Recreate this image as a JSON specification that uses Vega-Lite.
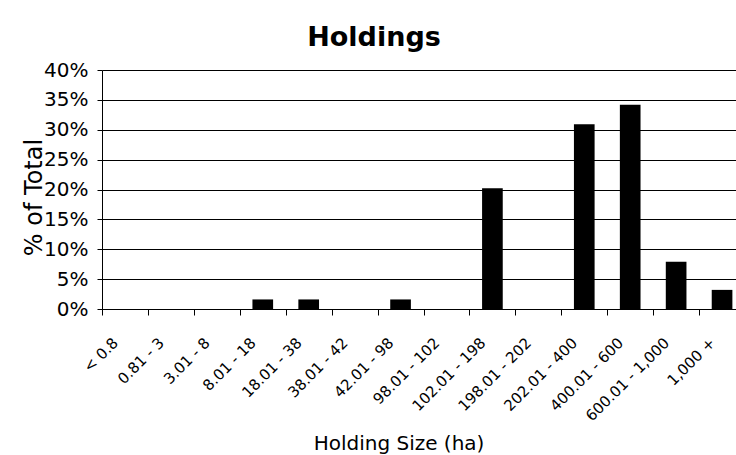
{
  "$schema": "https://vega.github.io/schema/vega-lite/v6.json",
  "width": 634,
  "height": 239,
  "autosize": {"type": "none"},
  "padding": {"left": 102, "top": 70, "right": 0, "bottom": 146},
  "background": "white",
  "title": {
    "text": "Holdings",
    "font": "DejaVu Sans",
    "fontSize": 27,
    "fontWeight": "bold",
    "color": "black",
    "anchor": "middle",
    "frame": "group",
    "dx": -45,
    "offset": -13,
    "baseline": "alphabetic"
  },
  "data": {
    "values": [
      {"size": "< 0.8", "pct": 0},
      {"size": "0.81 - 3", "pct": 0},
      {"size": "3.01 - 8", "pct": 0},
      {"size": "8.01 - 18", "pct": 0.016},
      {"size": "18.01 - 38", "pct": 0.016},
      {"size": "38.01 - 42", "pct": 0},
      {"size": "42.01 - 98", "pct": 0.016},
      {"size": "98.01 - 102", "pct": 0},
      {"size": "102.01 - 198", "pct": 0.202},
      {"size": "198.01 - 202", "pct": 0},
      {"size": "202.01 - 400", "pct": 0.309},
      {"size": "400.01 - 600", "pct": 0.342},
      {"size": "600.01 - 1,000", "pct": 0.079},
      {"size": "1,000 +", "pct": 0.032}
    ]
  },
  "mark": {"type": "bar", "color": "black"},
  "encoding": {
    "x": {
      "field": "size",
      "type": "nominal",
      "sort": null,
      "scale": {"paddingInner": 0.55, "paddingOuter": 0.177, "align": 0.778},
      "axis": {
        "title": "Holding Size (ha)",
        "titleFont": "DejaVu Sans",
        "titleFontSize": 20,
        "titleFontWeight": "normal",
        "titleColor": "black",
        "titleX": 296.5,
        "titleY": 140,
        "titleBaseline": "alphabetic",
        "titleAlign": "center",
        "labelAngle": -45,
        "labelAlign": "right",
        "labelBaseline": "top",
        "labelFont": "DejaVu Sans",
        "labelFontSize": 15,
        "labelColor": "black",
        "labelPadding": 20,
        "labelOffset": 8,
        "labelOverlap": false,
        "labelBound": false,
        "labelFlush": false,
        "tickOffset": -22.96,
        "tickSize": 6,
        "tickColor": "black",
        "domainColor": "black",
        "grid": false
      }
    },
    "y": {
      "field": "pct",
      "type": "quantitative",
      "scale": {"domain": [0, 0.4], "nice": false},
      "axis": {
        "title": "% of Total",
        "titleFont": "DejaVu Sans",
        "titleFontSize": 24,
        "titleFontWeight": "normal",
        "titleColor": "black",
        "titleAngle": 270,
        "titleX": -61,
        "titleY": 127,
        "titleBaseline": "alphabetic",
        "titleAlign": "center",
        "values": [0, 0.05, 0.1, 0.15, 0.2, 0.25, 0.3, 0.35, 0.4],
        "format": ".0%",
        "labelFont": "DejaVu Sans",
        "labelFontSize": 20,
        "labelColor": "black",
        "labelPadding": 9,
        "tickSize": 5,
        "tickColor": "black",
        "domainColor": "black",
        "grid": true,
        "gridColor": "black",
        "gridOpacity": 1,
        "gridWidth": 1
      }
    }
  },
  "config": {"view": {"stroke": null}, "font": "DejaVu Sans"}
}
